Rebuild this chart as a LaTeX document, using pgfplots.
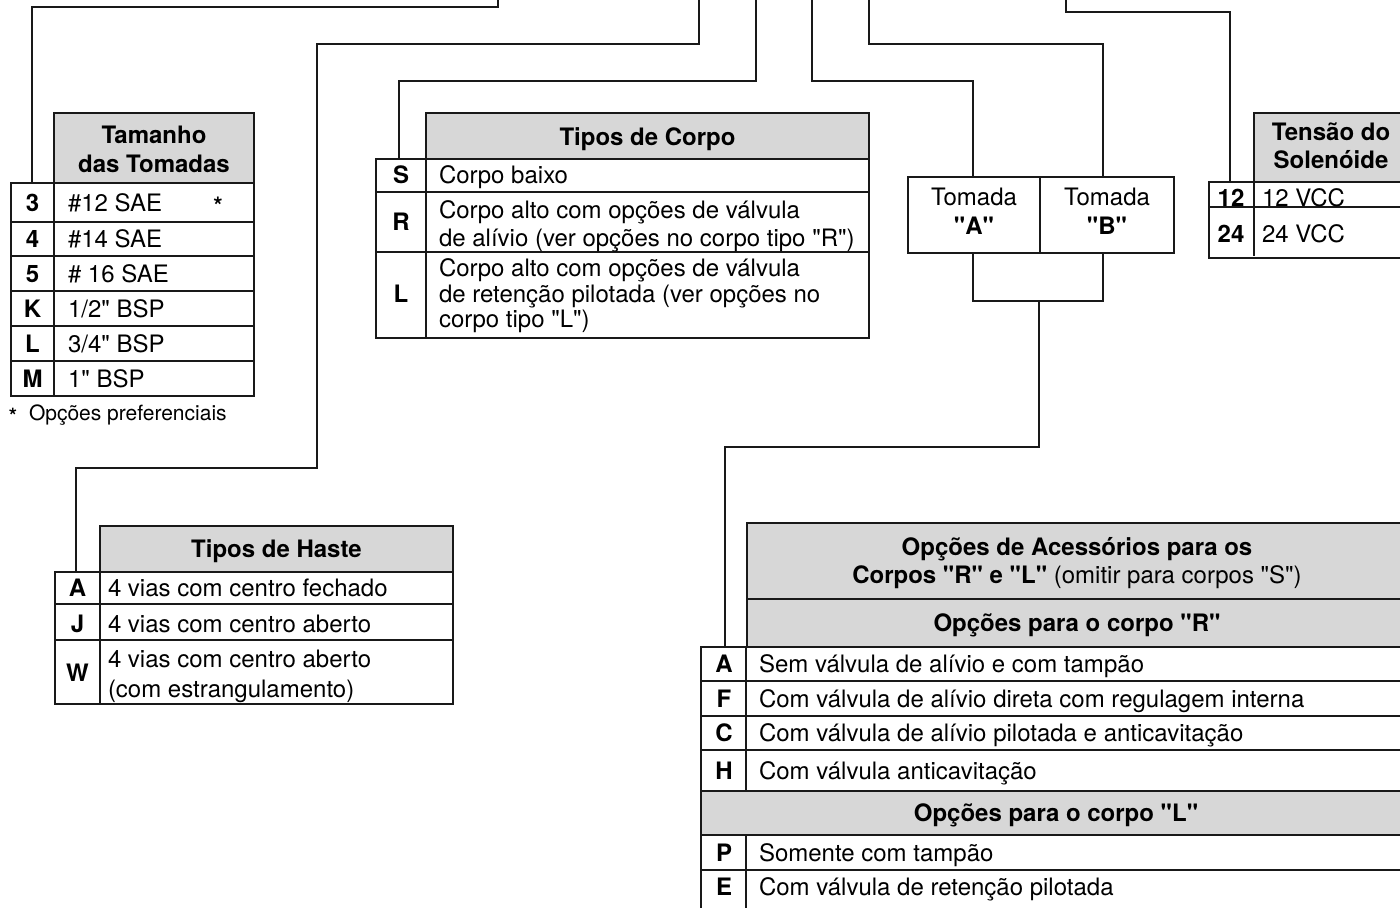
\documentclass[border=0pt]{standalone}
\usepackage{fontspec}
\setmainfont[Ligatures=TeXOff]{TeX Gyre Heros}
\usepackage{pgfplots}
\pgfplotsset{compat=1.18}
\definecolor{hdr}{RGB}{215,215,215}
\definecolor{ln}{RGB}{25,25,25}
\newcommand{\TL}[3]{\node[anchor=base west] at (axis cs:#1,#2) {#3};}
\newcommand{\TC}[3]{\node[anchor=base] at (axis cs:#1,#2) {#3};}
\begin{document}
\begin{tikzpicture}[every node/.style={inner sep=0pt,outer sep=0pt,font=\fontsize{12}{14}\selectfont},
  thk/.style={line width=1.45pt,ln},thn/.style={line width=0.7pt,ln},con/.style={line width=0.65pt,ln,mark=none}]
\begin{axis}[width=700pt,height=453.5pt,scale only axis,xmin=0,xmax=1400,ymin=0,ymax=907,
  y dir=reverse,hide axis,clip=true]
% connectors
\addplot[con] coordinates {(498,0) (498,7) (32,7) (32,183)};
\addplot[con] coordinates {(699,0) (699,44) (317,44) (317,468) (76,468) (76,572)};
\addplot[con] coordinates {(756,0) (756,81) (399,81) (399,159)};
\addplot[con] coordinates {(812,0) (812,81) (973,81) (973,177)};
\addplot[con] coordinates {(869,0) (869,44) (1103,44) (1103,177)};
\addplot[con] coordinates {(1066,0) (1066,12) (1230,12) (1230,182)};
\addplot[con] coordinates {(973,253) (973,301) (1103,301) (1103,253)};
\addplot[con] coordinates {(1039,301) (1039,447) (725,447) (725,647)};
% ---- Tamanho das Tomadas
\fill[hdr] (axis cs:54,113) rectangle (axis cs:254,183);
\draw[thk] (axis cs:54,113) rectangle (axis cs:254,183);
\draw[thn] (axis cs:11,222) -- (axis cs:254,222) (axis cs:11,256) -- (axis cs:254,256)
  (axis cs:11,291) -- (axis cs:254,291) (axis cs:11,326) -- (axis cs:254,326)
  (axis cs:11,361) -- (axis cs:254,361) (axis cs:54,183) -- (axis cs:54,396);
\draw[thk] (axis cs:11,183) rectangle (axis cs:254,396);
\TC{154}{143}{\bfseries Tamanho}
\TC{154}{172}{\bfseries das Tomadas}
\TC{32.5}{211}{\bfseries 3}\TL{68}{211}{\#12 SAE}\TC{218}{214}{\bfseries *}
\TC{32.5}{247.5}{\bfseries 4}\TL{68}{247.5}{\#14 SAE}
\TC{32.5}{282}{\bfseries 5}\TL{68}{282}{\# 16 SAE}
\TC{32.5}{317}{\bfseries K}\TL{68}{317}{1/2" BSP}
\TC{32.5}{352}{\bfseries L}\TL{68}{352}{3/4" BSP}
\TC{32.5}{387}{\bfseries M}\TL{68}{387}{1" BSP}
\node[anchor=base west,font=\fontsize{10.5}{12}\selectfont] at (axis cs:9,423) {\bfseries *};
\node[anchor=base west,font=\fontsize{10.5}{12}\selectfont] at (axis cs:29,420) {Opções preferenciais};
% ---- Tipos de Corpo
\fill[hdr] (axis cs:426,113) rectangle (axis cs:869,159);
\draw[thk] (axis cs:426,113) rectangle (axis cs:869,159);
\draw[thn] (axis cs:376,192) -- (axis cs:869,192) (axis cs:376,252) -- (axis cs:869,252)
  (axis cs:426,159) -- (axis cs:426,338);
\draw[thk] (axis cs:376,159) rectangle (axis cs:869,338);
\TC{647.5}{145}{\bfseries Tipos de Corpo}
\TC{401}{183}{\bfseries S}\TL{439}{183}{Corpo baixo}
\TC{401}{230}{\bfseries R}\TL{439}{218}{Corpo alto com opções de válvula}
\TL{439}{246}{de alívio (ver opções no corpo tipo "R")}
\TC{401}{302}{\bfseries L}\TL{439}{276}{Corpo alto com opções de válvula}
\TL{439}{302}{de retenção pilotada (ver opções no}
\TL{439}{327}{corpo tipo "L")}
% ---- Tomada box
\draw[thn] (axis cs:1040,177) -- (axis cs:1040,253);
\draw[thk] (axis cs:908,177) rectangle (axis cs:1174,253);
\TC{974}{205}{Tomada}\TC{974}{234}{\bfseries "A"}
\TC{1107}{205}{Tomada}\TC{1107}{234}{\bfseries "B"}
% ---- Tensao do Solenoide
\fill[hdr] (axis cs:1254,113) rectangle (axis cs:1412,182);
\draw[thk] (axis cs:1254,113) rectangle (axis cs:1412,182);
\draw[thn] (axis cs:1209,207) -- (axis cs:1412,207) (axis cs:1254,182) -- (axis cs:1254,256);
\draw[thk] (axis cs:1209,182) rectangle (axis cs:1412,258);
\TC{1331}{140}{\bfseries Tensão do}
\TC{1331}{168}{\bfseries Solenóide}
\TC{1231}{206}{\bfseries 12}\TL{1262}{206}{12 VCC}
\TC{1231}{242}{\bfseries 24}\TL{1262}{242}{24 VCC}
% ---- Tipos de Haste
\fill[hdr] (axis cs:100,526) rectangle (axis cs:453,572);
\draw[thk] (axis cs:100,526) rectangle (axis cs:453,572);
\draw[thn] (axis cs:55,604) -- (axis cs:453,604) (axis cs:55,640) -- (axis cs:453,640)
  (axis cs:100,572) -- (axis cs:100,704);
\draw[thk] (axis cs:55,572) rectangle (axis cs:453,704);
\TC{276.5}{557}{\bfseries Tipos de Haste}
\TC{77.5}{596}{\bfseries A}\TL{108}{596}{4 vias com centro fechado}
\TC{77.5}{632}{\bfseries J}\TL{108}{632}{4 vias com centro aberto}
\TC{77.5}{681}{\bfseries W}\TL{108}{667}{4 vias com centro aberto}
\TL{108}{697}{(com estrangulamento)}
% ---- Acessorios
\fill[hdr] (axis cs:747,523) rectangle (axis cs:1412,647);
\fill[hdr] (axis cs:701,791) rectangle (axis cs:1412,835);
\draw[thk] (axis cs:747,523) rectangle (axis cs:1412,599);
\draw[thk] (axis cs:747,599) rectangle (axis cs:1412,647);
\draw[thn] (axis cs:701,681) -- (axis cs:1412,681) (axis cs:701,716) -- (axis cs:1412,716)
  (axis cs:701,750) -- (axis cs:1412,750) (axis cs:701,870) -- (axis cs:1412,870)
  (axis cs:746,647) -- (axis cs:746,791) (axis cs:746,835) -- (axis cs:746,920);
\draw[thk] (axis cs:701,647) rectangle (axis cs:1412,791);
\draw[thk] (axis cs:701,791) rectangle (axis cs:1412,835);
\draw[thk] (axis cs:701,835) rectangle (axis cs:1412,925);
\TC{1077}{555}{\bfseries Opções de Acessórios para os}
\TC{1077}{583}{{\bfseries Corpos "R" e "L"} (omitir para corpos "S")}
\TC{1077}{631}{\bfseries Opções para o corpo "R"}
\TC{724}{672.5}{\bfseries A}\TL{759}{672.5}{Sem válvula de alívio e com tampão}
\TC{724}{707}{\bfseries F}\TL{759}{707}{Com válvula de alívio direta com regulagem interna}
\TC{724}{741.5}{\bfseries C}\TL{759}{741.5}{Com válvula de alívio pilotada e anticavitação}
\TC{724}{779}{\bfseries H}\TL{759}{779}{Com válvula anticavitação}
\TC{1056}{821.5}{\bfseries Opções para o corpo "L"}
\TC{724}{861}{\bfseries P}\TL{759}{861}{Somente com tampão}
\TC{724}{895}{\bfseries E}\TL{759}{895}{Com válvula de retenção pilotada}
\end{axis}
\pgfresetboundingbox
\path (current axis.south west) rectangle (current axis.north east);
\end{tikzpicture}
\end{document}
